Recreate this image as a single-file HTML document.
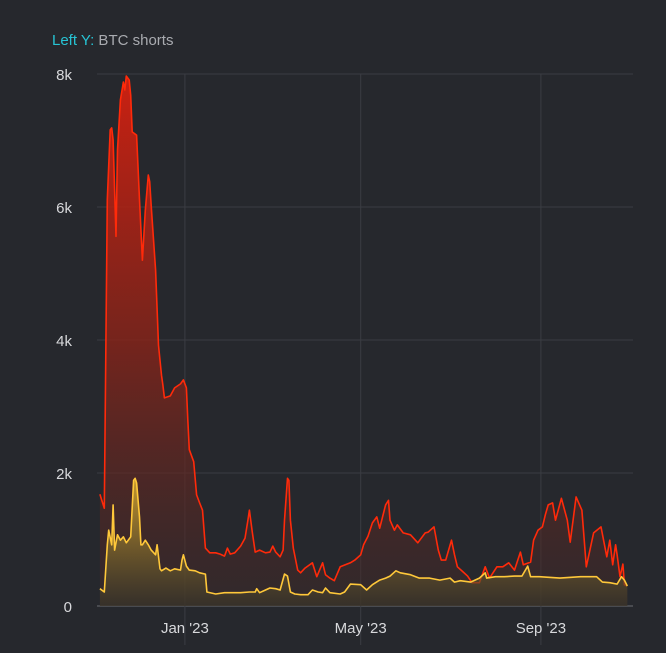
<!DOCTYPE html>
<html><head><meta charset="utf-8"><style>
html,body{margin:0;padding:0;background:#26282d;}
svg{display:block;font-family:"Liberation Sans",sans-serif;}
</style></head><body>
<svg id="chart" width="666" height="653" viewBox="0 0 666 653">
<rect width="666" height="653" fill="#26282d"/>
<text x="52" y="45" font-size="15"><tspan fill="#27c4d4">Left Y:</tspan><tspan fill="#a9abb0"> BTC shorts</tspan></text>
<defs>
<linearGradient id="gr" gradientUnits="userSpaceOnUse" x1="0" y1="74" x2="0" y2="606">
<stop offset="0" stop-color="#d42010" stop-opacity="0.95"/><stop offset="0.5" stop-color="#8a2318" stop-opacity="0.8"/><stop offset="1" stop-color="#3a2a2a" stop-opacity="0.5"/></linearGradient>
<linearGradient id="gy" gradientUnits="userSpaceOnUse" x1="0" y1="470" x2="0" y2="606">
<stop offset="0" stop-color="#e0b030" stop-opacity="0.9"/><stop offset="1" stop-color="#3a3528" stop-opacity="0.6"/></linearGradient>
</defs>
<g id="grid"></g><g id="marks"></g><g id="labels"></g>
</svg>
<script>
const yTicks=[0,2,4,6,8];
const yTickLabels=["0","2k","4k","6k","8k"];
const xTickDays=[60,180,303];
const xTickLabels=["Jan '23","May '23","Sep '23"];
const redDays=[2,5,7,9,10,11,13,14,16,18,19,20,22,23,24,27,29,31,33,35,36,37,40,42,44,45,46,50,53,57,59,61,62,63,66,68,70,72,74,77,81,84,87,89,91,94,98,101,103,104,106,108,111,115,118,120,122,125,127,128,130,131,132,134,137,139,142,147,150,154,156,159,162,166,173,176,180,182,185,188,191,193,197,199,200,203,205,209,214,219,224,226,230,233,235,238,242,244,246,250,253,256,261,265,268,273,277,281,285,289,291,296,298,301,304,306,308,311,313,317,321,323,327,331,334,339,344,348,350,352,354,355,357,359,360,362];
const redValues=[1.68,1.47,6.11,7.16,7.19,7.01,5.56,6.86,7.61,7.88,7.76,7.97,7.91,7.68,7.13,7.08,6.11,5.2,5.95,6.48,6.38,6.02,5.05,3.92,3.47,3.32,3.13,3.16,3.28,3.34,3.4,3.28,2.8,2.35,2.17,1.67,1.55,1.44,0.87,0.8,0.8,0.78,0.75,0.87,0.78,0.8,0.9,1.02,1.29,1.44,1.11,0.81,0.84,0.8,0.81,0.9,0.81,0.74,0.84,1.29,1.92,1.89,1.29,0.87,0.54,0.5,0.57,0.65,0.44,0.65,0.47,0.42,0.38,0.59,0.65,0.69,0.77,0.92,1.05,1.25,1.34,1.17,1.52,1.59,1.29,1.14,1.22,1.1,1.07,0.95,1.1,1.11,1.19,0.84,0.69,0.69,0.99,0.77,0.59,0.51,0.45,0.35,0.35,0.59,0.42,0.59,0.59,0.65,0.54,0.81,0.62,0.66,0.99,1.14,1.19,1.37,1.52,1.55,1.29,1.62,1.29,0.96,1.64,1.44,0.59,1.1,1.19,0.74,0.99,0.62,0.92,0.77,0.44,0.63,0.32,0.3];
const yelDays=[2,5,7,8,10,11,12,14,16,18,20,23,25,26,27,29,30,31,33,35,37,40,41,43,44,47,50,53,57,58,59,61,63,67,70,74,75,81,87,98,104,108,109,111,115,118,122,125,128,130,132,135,139,144,147,151,154,156,159,166,169,173,180,184,188,193,197,200,204,207,214,220,227,234,241,244,248,255,258,261,265,266,272,278,285,290,294,296,302,316,330,341,345,350,355,358,360,362];
const yelValues=[0.26,0.21,0.92,1.14,0.92,1.52,0.84,1.07,0.99,1.04,0.95,1.04,1.89,1.92,1.85,1.34,0.92,0.92,0.99,0.92,0.84,0.77,0.92,0.56,0.53,0.57,0.53,0.56,0.54,0.69,0.77,0.6,0.54,0.53,0.5,0.48,0.21,0.18,0.2,0.2,0.21,0.21,0.26,0.2,0.24,0.27,0.26,0.24,0.48,0.45,0.21,0.18,0.17,0.17,0.24,0.21,0.2,0.27,0.2,0.18,0.21,0.33,0.32,0.24,0.32,0.39,0.42,0.45,0.53,0.5,0.47,0.42,0.42,0.39,0.42,0.36,0.38,0.36,0.39,0.42,0.5,0.42,0.44,0.44,0.45,0.45,0.6,0.44,0.44,0.42,0.44,0.44,0.36,0.35,0.33,0.44,0.39,0.3];

const L=97,R=633,T=74,B=606;
const xS=d=>L+d*1.465;
const yS=v=>B-v/8*(B-T);
const NS="http://www.w3.org/2000/svg";
function mk(tag,attrs,parent){const e=document.createElementNS(NS,tag);for(const k in attrs)e.setAttribute(k,attrs[k]);parent.appendChild(e);return e;}
const grid=document.getElementById('grid'),marks=document.getElementById('marks'),labels=document.getElementById('labels');
yTicks.forEach((v,i)=>{
  const ln=mk('line',{x1:L,x2:R,y1:yS(v),y2:yS(v),stroke:i===0?'#55575c':'#3b3d43','stroke-width':i===0?1.5:1},grid);
  
  
  const t=mk('text',{x:72,y:yS(v)+6,'text-anchor':'end','font-size':15,fill:'#d8d9dc'},labels);
  t.textContent=yTickLabels[i];
  
  
});
xTickDays.forEach((d,i)=>{
  const ln=mk('line',{x1:xS(d),x2:xS(d),y1:T,y2:645,stroke:'#3b3d43','stroke-width':1},grid);
  
  
  const t=mk('text',{x:xS(d),y:633,'text-anchor':'middle','font-size':15,fill:'#d8d9dc'},labels);
  t.textContent=xTickLabels[i];
  
  
});
function series(days,vals,fill,stroke,name){
  const pts=days.map((d,i)=>xS(d).toFixed(1)+','+yS(vals[i]).toFixed(1));
  const area=mk('path',{d:'M'+xS(days[0])+','+B+' L'+pts.join(' L')+' L'+xS(days[days.length-1])+','+B+' Z',fill:fill},marks);
  
  
  const line=mk('path',{d:'M'+pts.join(' L'),fill:'none',stroke:stroke,'stroke-width':1.6,'stroke-linejoin':'round'},marks);
  
  
}
series(redDays,redValues,'url(#gr)','#ff2a0a','btc-shorts-red');
series(yelDays,yelValues,'url(#gy)','#ffc83a','btc-shorts-yellow');
</script>
</body></html>
